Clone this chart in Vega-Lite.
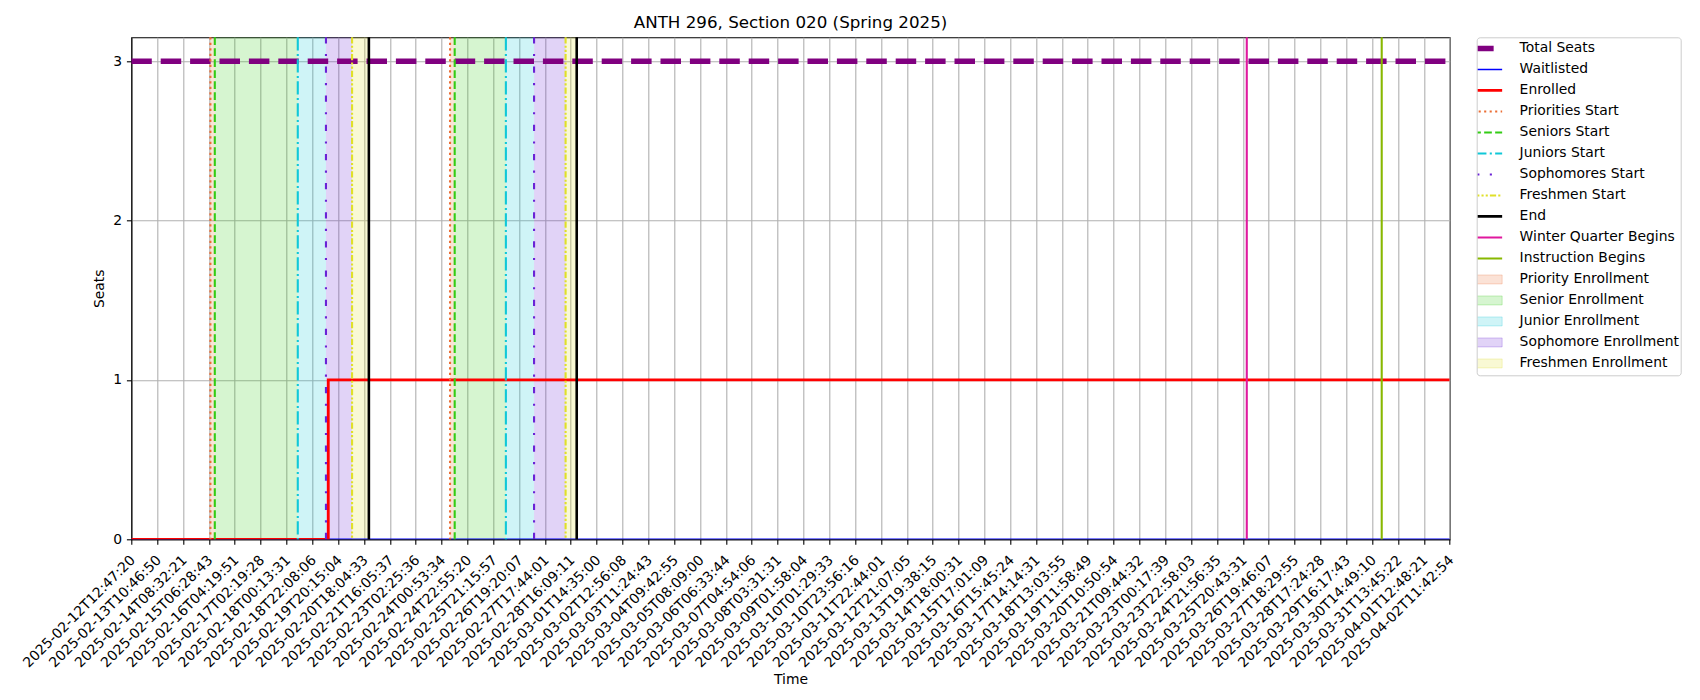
{
  "$schema": "https://vega.github.io/schema/vega-lite/v6.json",
  "autosize": {"type": "none"},
  "padding": {"left": 131.3, "top": 37.3, "right": 250.3, "bottom": 160.7},
  "width": 1318.4,
  "height": 502,
  "background": "white",
  "config": {
    "font": "DejaVu Sans",
    "view": {"stroke": "black", "strokeWidth": 1.1},
    "axis": {
      "labelFont": "DejaVu Sans",
      "labelFontSize": 13.9,
      "labelColor": "black",
      "titleFont": "DejaVu Sans",
      "titleFontSize": 13.9,
      "titleFontWeight": "normal",
      "titleColor": "black",
      "tickColor": "black",
      "tickSize": 4.9,
      "tickWidth": 1.1,
      "domainColor": "black",
      "domainWidth": 1.1,
      "gridColor": "#b0b0b0",
      "gridWidth": 1.1,
      "labelPadding": 4.9
    }
  },
  "title": {
    "text": "ANTH 296, Section 020 (Spring 2025)",
    "font": "DejaVu Sans",
    "fontSize": 16.7,
    "fontWeight": "normal",
    "color": "black",
    "anchor": "middle",
    "offset": 4
  },
  "datasets": {
    "counts": [
      {"series": "Total Seats", "x": 0, "y": 3},
      {"series": "Total Seats", "x": 51, "y": 3},
      {"series": "Waitlisted", "x": 0, "y": 0},
      {"series": "Waitlisted", "x": 51, "y": 0},
      {"series": "Enrolled", "x": 0, "y": 0},
      {"series": "Enrolled", "x": 7.62, "y": 1},
      {"series": "Enrolled", "x": 51, "y": 1}
    ],
    "events": [
      {"series": "Priorities Start", "x": 3.06},
      {"series": "Seniors Start", "x": 3.23},
      {"series": "Juniors Start", "x": 6.44},
      {"series": "Sophomores Start", "x": 7.53},
      {"series": "Freshmen Start", "x": 8.54},
      {"series": "End", "x": 9.19},
      {"series": "Priorities Start", "x": 12.33},
      {"series": "Seniors Start", "x": 12.51},
      {"series": "Juniors Start", "x": 14.49},
      {"series": "Sophomores Start", "x": 15.58},
      {"series": "Freshmen Start", "x": 16.8},
      {"series": "End", "x": 17.23},
      {"series": "Winter Quarter Begins", "x": 43.15},
      {"series": "Instruction Begins", "x": 48.37}
    ],
    "periods": [
      {"series": "Priority Enrollment", "x": 3.06, "x2": 3.23},
      {"series": "Senior Enrollment", "x": 3.23, "x2": 6.44},
      {"series": "Junior Enrollment", "x": 6.44, "x2": 7.53},
      {"series": "Sophomore Enrollment", "x": 7.53, "x2": 8.54},
      {"series": "Freshmen Enrollment", "x": 8.54, "x2": 9.19},
      {"series": "Priority Enrollment", "x": 12.33, "x2": 12.51},
      {"series": "Senior Enrollment", "x": 12.51, "x2": 14.49},
      {"series": "Junior Enrollment", "x": 14.49, "x2": 15.58},
      {"series": "Sophomore Enrollment", "x": 15.58, "x2": 16.8},
      {"series": "Freshmen Enrollment", "x": 16.8, "x2": 17.23}
    ]
  },
  "encoding": {
    "x": {
      "field": "x",
      "type": "quantitative",
      "scale": {"domain": [0, 51], "nice": false, "zero": false},
      "axis": {
        "title": "Time",
        "values": [0,1,2,3,4,5,6,7,8,9,10,11,12,13,14,15,16,17,18,19,20,21,22,23,24,25,26,27,28,29,30,31,32,33,34,35,36,37,38,39,40,41,42,43,44,45,46,47,48,49,50,51],
        "labelExpr": "['2025-02-12T12:47:20','2025-02-13T10:46:50','2025-02-14T08:32:21','2025-02-15T06:28:43','2025-02-16T04:19:51','2025-02-17T02:19:28','2025-02-18T00:13:31','2025-02-18T22:08:06','2025-02-19T20:15:04','2025-02-20T18:04:33','2025-02-21T16:05:37','2025-02-23T02:25:36','2025-02-24T00:53:34','2025-02-24T22:55:20','2025-02-25T21:15:57','2025-02-26T19:20:07','2025-02-27T17:44:01','2025-02-28T16:09:11','2025-03-01T14:35:00','2025-03-02T12:56:08','2025-03-03T11:24:43','2025-03-04T09:42:55','2025-03-05T08:09:00','2025-03-06T06:33:44','2025-03-07T04:54:06','2025-03-08T03:31:31','2025-03-09T01:58:04','2025-03-10T01:29:33','2025-03-10T23:56:16','2025-03-11T22:44:01','2025-03-12T21:07:05','2025-03-13T19:38:15','2025-03-14T18:00:31','2025-03-15T17:01:09','2025-03-16T15:45:24','2025-03-17T14:14:31','2025-03-18T13:03:55','2025-03-19T11:58:49','2025-03-20T10:50:54','2025-03-21T09:44:32','2025-03-23T00:17:39','2025-03-23T22:58:03','2025-03-24T21:56:35','2025-03-25T20:43:31','2025-03-26T19:46:07','2025-03-27T18:29:55','2025-03-28T17:24:28','2025-03-29T16:17:43','2025-03-30T14:49:10','2025-03-31T13:45:22','2025-04-01T12:48:21','2025-04-02T11:42:54'][round(datum.value)]",
        "labelAngle": -45,
        "labelAlign": "right",
        "labelBaseline": "top",
        "labelOverlap": false,
        "labelFlush": false,
        "labelPadding": 8.5,
        "labelOffset": -3.5,
        "grid": true,
        "titlePadding": 3
      }
    },
    "color": {
      "field": "series",
      "type": "nominal",
      "scale": {
        "domain": ["Total Seats", "Waitlisted", "Enrolled", "Priorities Start", "Seniors Start", "Juniors Start", "Sophomores Start", "Freshmen Start", "End", "Winter Quarter Begins", "Instruction Begins", "Priority Enrollment", "Senior Enrollment", "Junior Enrollment", "Sophomore Enrollment", "Freshmen Enrollment"],
        "range": ["#800080", "#0000ff", "#ff0000", "#eb6e34", "#33cc15", "#10c8d8", "#6a22d6", "#e0e028", "#000000", "#e0189e", "#88b800", "#eb6e34", "#33cc15", "#10c8d8", "#6a22d6", "#e0e028"]
      },
      "legend": {
        "title": null,
        "orient": "none",
        "legendX": 1345.4,
        "legendY": 0,
        "padding": 1,
        "symbolOffset": 3,
        "strokeColor": "#cccccc",
        "fillColor": "white",
        "cornerRadius": 3,
        "clipHeight": 20.3,
        "rowPadding": 0,
        "symbolSize": 841,
        "symbolType": "stroke",
        "labelFont": "DejaVu Sans",
        "labelFontSize": 13.9,
        "labelColor": "black",
        "labelLimit": 300,
        "labelOffset": 25,
        "encode": {
          "symbols": {
            "update": {
              "shape": {"signal": "indexof(['Priority Enrollment','Senior Enrollment','Junior Enrollment','Sophomore Enrollment','Freshmen Enrollment'], datum.value) >= 0 ? 'M-1,-0.31H1V0.31H-1Z' : 'stroke'"},
              "fill": {"signal": "indexof(['Priority Enrollment','Senior Enrollment','Junior Enrollment','Sophomore Enrollment','Freshmen Enrollment'], datum.value) >= 0 ? scale('color', datum.value) : 'transparent'"},
              "fillOpacity": {"signal": "indexof(['Priority Enrollment','Senior Enrollment','Junior Enrollment','Sophomore Enrollment','Freshmen Enrollment'], datum.value) >= 0 ? 0.2 : 1"},
              "stroke": {"signal": "scale('color', datum.value)"},
              "strokeOpacity": {"signal": "indexof(['Priority Enrollment','Senior Enrollment','Junior Enrollment','Sophomore Enrollment','Freshmen Enrollment'], datum.value) >= 0 ? 0.25 : 1"},
              "opacity": {"value": 1},
              "strokeWidth": {"signal": "datum.value == 'Total Seats' ? 5.5 : datum.value == 'Waitlisted' ? 1.4 : (datum.value == 'Enrolled' || datum.value == 'End') ? 2.8 : indexof(['Priority Enrollment','Senior Enrollment','Junior Enrollment','Sophomore Enrollment','Freshmen Enrollment'], datum.value) >= 0 ? 1 : 2.1"},
              "strokeDash": {"signal": "datum.value == 'Total Seats' ? [20.5, 8.9] : datum.value == 'Priorities Start' ? [2.1, 3.4] : datum.value == 'Seniors Start' ? [7.7, 3.3] : datum.value == 'Juniors Start' ? [13.3, 3.3, 2.1, 3.3] : datum.value == 'Sophomores Start' ? [6.25, 10.4, 2.1, 10.4] : datum.value == 'Freshmen Start' ? [6.25, 2.1, 2.1, 2.1, 2.1, 2.1] : [1, 0]"}
            }
          }
        }
      }
    }
  },
  "layer": [
    {
      "data": {"name": "periods"},
      "mark": {"type": "rect", "opacity": 0.2},
      "encoding": {
        "x2": {"field": "x2"}
      }
    },
    {
      "data": {"name": "counts"},
      "transform": [{"filter": "datum.series == 'Total Seats'"}],
      "mark": {"type": "line", "strokeWidth": 5.5, "strokeDash": [20.5, 8.9], "strokeCap": "butt", "clip": true},
      "encoding": {
        "y": {
          "field": "y",
          "type": "quantitative",
          "title": "Seats",
          "scale": {"domain": [0, 3.15], "nice": false},
          "axis": {"values": [0, 1, 2, 3], "format": "d", "grid": true, "titlePadding": 6}
        }
      }
    },
    {
      "data": {"name": "counts"},
      "transform": [{"filter": "datum.series == 'Waitlisted'"}],
      "mark": {"type": "line", "strokeWidth": 1.4, "clip": true},
      "encoding": {
        "y": {"field": "y", "type": "quantitative", "title": "Seats"}
      }
    },
    {
      "data": {"name": "counts"},
      "transform": [{"filter": "datum.series == 'Enrolled'"}],
      "mark": {"type": "line", "strokeWidth": 2.8, "interpolate": "step-after", "clip": true},
      "encoding": {
        "y": {"field": "y", "type": "quantitative", "title": "Seats"}
      }
    },
    {
      "data": {"name": "events"},
      "transform": [{"filter": "datum.series != 'End'"}],
      "mark": {"type": "rule", "strokeWidth": 2.1},
      "encoding": {
        "strokeDash": {
          "field": "series",
          "type": "nominal",
          "scale": {
            "domain": ["Priorities Start", "Seniors Start", "Juniors Start", "Sophomores Start", "Freshmen Start", "Winter Quarter Begins", "Instruction Begins"],
            "range": [[2.1, 3.4], [7.7, 3.3], [13.3, 3.3, 2.1, 3.3], [6.25, 10.4, 2.1, 10.4], [6.25, 2.1, 2.1, 2.1, 2.1, 2.1], [1, 0], [1, 0]]
          },
          "legend": null
        }
      }
    },
    {
      "data": {"name": "events"},
      "transform": [{"filter": "datum.series == 'End'"}],
      "mark": {"type": "rule", "strokeWidth": 2.6},
      "encoding": {}
    }
  ]
}
